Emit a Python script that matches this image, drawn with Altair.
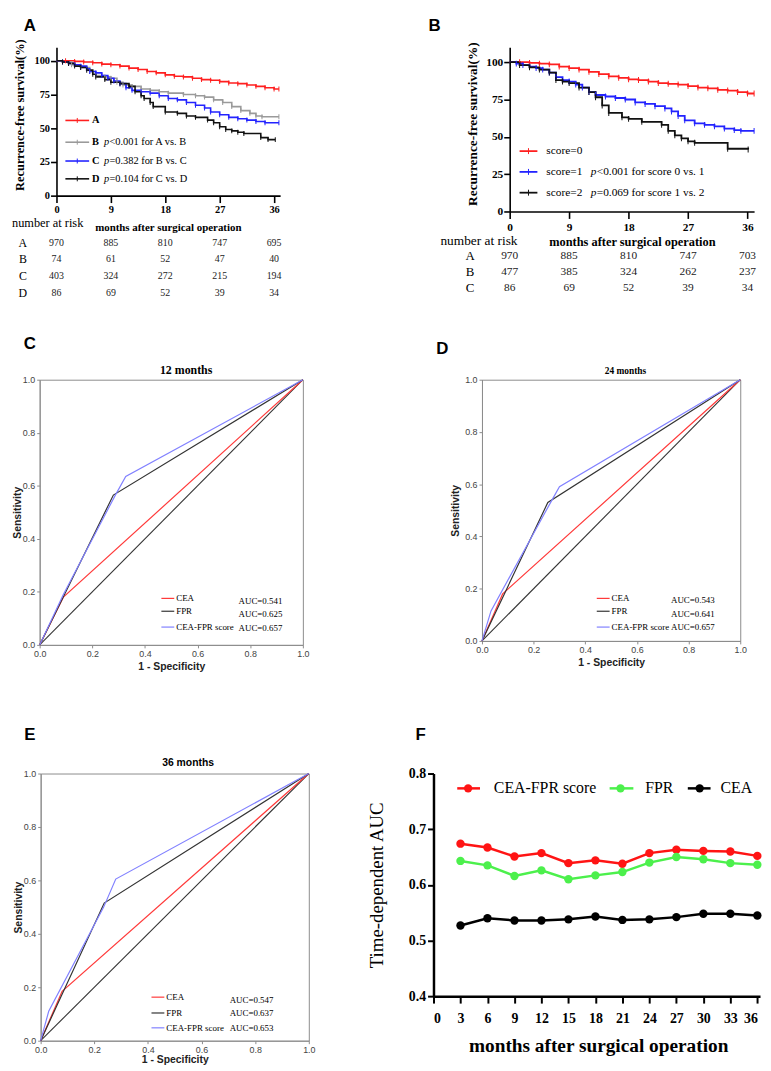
import altair as alt
import pandas as pd

SERIF = "Liberation Serif"
SANS = "Liberation Sans"

# ============================ DATA ============================
risk_months = [0, 9, 18, 27, 36]
km_xticks = [0, 9, 18, 27, 36]
km_yticks = [0, 25, 50, 75, 100]

A_names = ["A", "B", "C", "D"]
A_colors = ["#ff1f1f", "#9a9a9a", "#2323ff", "#111111"]
A_t_A = [0, 1.5, 3, 4.5, 6, 7.5, 9, 10.5, 12, 13.5, 15, 16.5, 18, 19.5, 21, 22.5, 24, 25.5, 27, 28.5, 30, 31.5, 33, 34.5, 36, 36.8]
A_s_A = [100, 100, 99.5, 99, 98.5, 97.5, 97, 96, 94.5, 93.5, 92, 91, 89.5, 88.5, 88, 87, 86, 85.5, 84.5, 83.5, 83, 82, 81, 80, 79, 79]
A_t_B = [0, 1, 2.5, 4, 5.5, 6.5, 8, 9, 10, 11, 12.5, 14, 15.5, 17, 18.5, 21, 23, 24.5, 26, 27.5, 29, 30.5, 32, 33, 34, 36.8]
A_s_B = [100, 99, 97, 95, 92, 89, 88, 87, 84, 82, 81, 79, 78, 77, 76, 75, 74, 73, 71, 69, 66, 63, 61, 59, 58.5, 58.5]
A_t_C = [0, 1, 2, 3, 4, 5, 5.5, 6.5, 7.5, 8.5, 9.5, 10.5, 11.5, 12.5, 14, 15.5, 17, 18.5, 20, 21.5, 23, 24.5, 25.5, 27, 28.5, 30, 31.5, 33, 34.5, 36.8]
A_s_C = [100, 99, 98, 97, 96, 94, 92, 91, 89, 87, 85, 83, 80, 78, 77, 76, 74, 72, 71, 69, 67, 65, 62, 60, 58, 57, 56, 55, 54, 54]
A_t_D = [0, 1, 2, 3, 4, 5, 6, 6.5, 8, 9, 10.5, 12, 13, 14, 14.5, 15.5, 16, 18, 20, 21.5, 23, 25, 26, 27, 28, 29, 30, 31, 33.8, 35, 36.2]
A_s_D = [100, 99, 98, 96, 95, 93, 90, 88, 86, 84, 83, 81, 77, 74, 72, 69, 66, 62, 61, 59, 58, 56, 54, 51, 49, 48, 47, 46, 43, 41.5, 41.5]
A_p_text = ["", "<0.001 for A vs. B", "=0.382 for B vs. C", "=0.104 for C vs. D"]
A_risk_rows = ["A", "B", "C", "D"]
A_risk_A = [970, 885, 810, 747, 695]
A_risk_B = [74, 61, 52, 47, 40]
A_risk_C = [403, 324, 272, 215, 194]
A_risk_D = [86, 69, 52, 39, 34]

B_names = ["score=0", "score=1", "score=2"]
B_colors = ["#ff1f1f", "#2323ff", "#111111"]
B_t_0 = [0, 1.5, 3, 4.5, 6, 7.5, 9, 10.5, 12, 13.5, 15, 16.5, 18, 19.5, 21, 22.5, 24, 25.5, 27, 28.5, 30, 31.5, 33, 34.5, 36, 37]
B_s_0 = [100, 100, 99.5, 99, 98.5, 97, 96, 95, 93.5, 92, 90.5, 89.5, 88.5, 88, 87, 86, 85.5, 85, 84, 83, 82.5, 81.5, 81, 80, 79, 79]
B_t_1 = [0, 1, 2, 3, 4, 5, 6, 7, 8, 9, 10, 11, 12, 13, 14.5, 16, 17.5, 19, 20.5, 22, 23.5, 24.5, 25.5, 26.5, 28, 29.5, 31, 32.5, 34, 35, 37]
B_s_1 = [100, 99, 98, 97, 96, 95, 93, 90, 88, 87, 85, 83, 80, 78, 77, 76, 75, 73, 72, 70.5, 69, 67, 64, 61, 59, 58, 57, 55.5, 54.5, 54, 54]
B_t_2 = [0, 1.5, 3, 4.5, 6, 7, 8, 9, 10.5, 12, 13, 14, 15, 17, 18, 20, 23, 24, 25, 26, 27, 28, 33, 36.1]
B_s_2 = [100, 98, 96.5, 95, 93, 88, 87, 86, 83, 80, 76.5, 71, 66, 63, 62, 60, 58, 54, 51, 49, 47, 46, 42, 41.5]
B_p_text = ["", "<0.001 for score 0 vs. 1", "=0.069 for score 1 vs. 2"]
B_risk_rows = ["A", "B", "C"]
B_risk_A = [970, 885, 810, 747, 703]
B_risk_B = [477, 385, 324, 262, 237]
B_risk_C = [86, 69, 52, 39, 34]

roc_names = ["CEA", "FPR", "CEA-FPR score"]
roc_colors = ["#ff3a3a", "#333333", "#8181ff"]
roc_ticks = [0.0, 0.2, 0.4, 0.6, 0.8, 1.0]
diag = [0.0, 1.0]

C_cea_x = [0, 0.09, 1.0]
C_cea_y = [0, 0.18, 1.0]
C_fpr_x = [0, 0.28, 1.0]
C_fpr_y = [0, 0.565, 1.0]
C_sc_x = [0, 0.09, 0.285, 0.327, 1.0]
C_sc_y = [0, 0.19, 0.56, 0.635, 1.0]
C_auc = ["AUC=0.541", "AUC=0.625", "AUC=0.657"]

D_cea_x = [0, 0.08, 1.0]
D_cea_y = [0, 0.18, 1.0]
D_fpr_x = [0, 0.255, 1.0]
D_fpr_y = [0, 0.53, 1.0]
D_sc_x = [0, 0.035, 0.26, 0.30, 1.0]
D_sc_y = [0, 0.115, 0.52, 0.59, 1.0]
D_auc = ["AUC=0.543", "AUC=0.641", "AUC=0.657"]

E_cea_x = [0, 0.08, 1.0]
E_cea_y = [0, 0.185, 1.0]
E_fpr_x = [0, 0.237, 1.0]
E_fpr_y = [0, 0.515, 1.0]
E_sc_x = [0, 0.03, 0.235, 0.28, 1.0]
E_sc_y = [0, 0.11, 0.5, 0.605, 1.0]
E_auc = ["AUC=0.547", "AUC=0.637", "AUC=0.653"]

F_months = [3, 6, 9, 12, 15, 18, 21, 24, 27, 30, 33, 36]
F_score = [0.674, 0.667, 0.651, 0.657, 0.639, 0.644, 0.638, 0.657, 0.663, 0.661, 0.660, 0.652]
F_fpr = [0.643, 0.635, 0.616, 0.626, 0.610, 0.617, 0.623, 0.640, 0.650, 0.646, 0.639, 0.636]
F_cea = [0.527, 0.540, 0.536, 0.536, 0.538, 0.543, 0.537, 0.538, 0.542, 0.548, 0.548, 0.545]
F_xticks = [0, 3, 6, 9, 12, 15, 18, 21, 24, 27, 30, 33, 36]
F_yticks = [0.4, 0.5, 0.6, 0.7, 0.8]
F_names = ["CEA-FPR score", "FPR", "CEA"]
F_colors = ["#ff1414", "#4cf04c", "#000000"]

ONE = pd.DataFrame({"k": [0]})


# ============================ HELPERS ============================
def seg(x1, x2, y1, y2, color, w, opacity=1):
    return alt.Chart(ONE).mark_rule(color=color, strokeWidth=w, opacity=opacity).encode(
        x=alt.value(x1), x2=alt.value(x2), y=alt.value(y1), y2=alt.value(y2))


def anchor(l, r, t, b):
    # invisible rule spanning the panel's cell: fixes the cell's layout bounds
    return [seg(l, r, t, b, "white", 1, opacity=0)]


def label(x, y, s, font=SERIF, size=11, weight="normal", style="normal",
          align="left", color="black", angle=0, baseline="middle"):
    return alt.Chart(pd.DataFrame({"s": [s]})).mark_text(
        font=font, fontSize=size, fontWeight=weight, fontStyle=style,
        align=align, baseline=baseline, color=color, angle=angle).encode(
        x=alt.value(x), y=alt.value(y), text="s:N")


def spacer():
    return seg(0, 1, 0, 1, "white", 1, opacity=0).properties(
        width=1, height=1, view=alt.ViewBackground(stroke="transparent"))


def km_panel(key, names, colors, ts, ss, W, H, xmax, box, letter, letter_xy,
             lab_fs, yt_fs, yt_xy, xtick_len, xlab_pad, lw, cens,
             leg_x, leg_ys, leg_tx, leg_px, leg_p, leg_fs, leg_bold,
             risk_rows, risk_vals, risk_ys, risk_lx, risk_fs, risk_lfs,
             nar_xy, nar_fs, mo_xy, mo_fs):
    gf = "g" + key
    rows = []
    for g, tt, sv in zip(names, ts, ss):
        part = pd.DataFrame({"t": tt, "s": sv})
        part[gf] = g
        part["i"] = range(len(part))
        rows.append(part)
    df = pd.concat(rows, ignore_index=True)
    xenc = alt.X("t:Q", scale=alt.Scale(domain=[0, xmax], nice=False, zero=False),
                 axis=alt.Axis(values=km_xticks, title=None, labelFont=SERIF, labelFontWeight="bold",
                               labelFontSize=lab_fs, labelColor="black", domainColor="black",
                               domainWidth=1.6, tickColor="black", tickWidth=1.6, tickSize=xtick_len,
                               labelPadding=xlab_pad, labelFlush=False, grid=False))
    yenc = alt.Y("s:Q", scale=alt.Scale(domain=[0, 110], nice=False, zero=False),
                 axis=alt.Axis(values=km_yticks, title=None,
                               labelFont=SERIF, labelFontWeight="bold",
                               labelFontSize=lab_fs, labelColor="black", domainColor="black",
                               domainWidth=1.6, tickColor="black", tickWidth=1.6, tickSize=6,
                               labelPadding=1, grid=False))
    cenc = alt.Color(gf + ":N", scale=alt.Scale(domain=names, range=colors), legend=None)
    layers = anchor(*box)
    layers.append(alt.Chart(df).mark_line(interpolate="step-after", strokeWidth=lw).encode(
        x=xenc, y=yenc, color=cenc, detail=gf + ":N", order="i:Q"))
    layers.append(alt.Chart(df).transform_filter("datum.t > 0").mark_tick(
        orient="vertical", size=cens, thickness=1, opacity=1).encode(x=xenc, y=yenc, color=cenc))
    layers.append(label(yt_xy[0], yt_xy[1], "Recurrence-free survival(%)", size=yt_fs,
                        weight="bold", align="right", angle=270))
    for k, nm in enumerate(names):
        y = leg_ys[k]
        layers.append(seg(leg_x[0], leg_x[1], y, y, colors[k], lw))
        mid = (leg_x[0] + leg_x[1]) / 2
        layers.append(seg(mid, mid, y - cens / 2, y + cens / 2, colors[k], 1))
        layers.append(label(leg_tx, y, nm, size=leg_fs, weight="bold" if leg_bold else "normal"))
        if leg_p[k]:
            layers.append(label(leg_px, y, "p", size=leg_fs, style="italic"))
            layers.append(label(leg_px + leg_fs * 0.52, y, leg_p[k], size=leg_fs))
    layers.append(label(nar_xy[0], nar_xy[1], "number at risk", size=nar_fs))
    layers.append(label(mo_xy[0], mo_xy[1], "months after surgical operation", size=mo_fs,
                        weight="bold", align="center"))
    for r, rl in enumerate(risk_rows):
        layers.append(label(risk_lx, risk_ys[r], rl, size=risk_lfs, align="center"))
        rdf = pd.DataFrame({"t": risk_months, "v": risk_vals[r]})
        layers.append(alt.Chart(rdf).mark_text(font=SERIF, fontSize=risk_fs, color="#222",
                                               baseline="middle", align="center").encode(
            x=xenc, y=alt.value(risk_ys[r]), text="v:N"))
    # panel letter hangs from the top edge of the cell
    layers.append(label(letter_xy[0], letter_xy[1], letter, font=SANS, size=17,
                        weight="bold", align="center", baseline="top"))
    return alt.layer(*layers).properties(width=W, height=H,
                                         view=alt.ViewBackground(stroke="transparent"))


def roc_panel(key, xs, ys, W, H, box, letter, letter_xy, title, title_font, title_fs, title_xy,
              yt_pad, xt_pad, leg_x, leg_ys, leg_tx, auc_x, auc_ys, aucs):
    gf = "g" + key
    parts = []
    for nm, xx, yy in zip(roc_names, xs, ys):
        p = pd.DataFrame({"x": xx, "y": yy})
        p[gf] = nm
        p["i"] = range(len(p))
        parts.append(p)
    df = pd.concat(parts, ignore_index=True)
    common = dict(labelFont=SANS, labelFontSize=9, labelColor="#444", domainColor="#8c8c8c",
                  tickColor="#8c8c8c", tickSize=3, labelPadding=2, grid=False,
                  titleFont=SANS, titleFontWeight="bold", titleFontSize=10.5, titleColor="#222",
                  values=roc_ticks, format=".1f")
    xenc = alt.X("x:Q", scale=alt.Scale(domain=[0, 1], nice=False),
                 axis=alt.Axis(title="1 - Specificity", titlePadding=xt_pad, labelFlush=False, **common))
    yenc = alt.Y("y:Q", scale=alt.Scale(domain=[0, 1], nice=False),
                 axis=alt.Axis(title="Sensitivity", titlePadding=yt_pad, **common))
    cenc = alt.Color(gf + ":N", scale=alt.Scale(domain=roc_names, range=roc_colors), legend=None)
    ddf = pd.DataFrame({"x": diag, "y": diag})
    layers = anchor(*box)
    layers += [alt.Chart(ddf).mark_line(color="#333333", strokeWidth=1.1).encode(x=xenc, y=yenc),
               alt.Chart(df).mark_line(strokeWidth=1.2).encode(x=xenc, y=yenc, color=cenc,
                                                                detail=gf + ":N", order="i:Q")]
    for k, nm in enumerate(roc_names):
        layers.append(seg(leg_x[0], leg_x[1], leg_ys[k], leg_ys[k], roc_colors[k], 1.2))
        layers.append(label(leg_tx, leg_ys[k], nm, size=9))
        layers.append(label(auc_x, auc_ys[k], aucs[k], size=9))
    layers.append(label(title_xy[0], title_xy[1], title, font=title_font, size=title_fs,
                        weight="bold", align="center"))
    layers.append(label(letter_xy[0], letter_xy[1], letter, font=SANS, size=17,
                        weight="bold", align="center"))
    return alt.layer(*layers).properties(width=W, height=H,
                                         view=alt.ViewBackground(stroke="#8c8c8c", strokeWidth=1))


# ============================ PANELS ============================
pA = km_panel("A", A_names, A_colors, [A_t_A, A_t_B, A_t_C, A_t_D], [A_s_A, A_s_B, A_s_C, A_s_D],
              W=226, H=150, xmax=37, box=(-45, 308, -29, 280), letter="A", letter_xy=(-27, -29),
              lab_fs=10.5, yt_fs=12.5, yt_xy=(-37, -8), xtick_len=7, xlab_pad=2, lw=1.6, cens=5,
              leg_x=(9, 33), leg_ys=[74, 96, 115, 133], leg_tx=36, leg_px=48, leg_p=A_p_text,
              leg_fs=10.5, leg_bold=True,
              risk_rows=A_risk_rows, risk_vals=[A_risk_A, A_risk_B, A_risk_C, A_risk_D],
              risk_ys=[198, 214, 231, 248], risk_lx=-34, risk_fs=10, risk_lfs=12,
              nar_xy=(-45, 178), nar_fs=12.5, mo_xy=(113, 183), mo_fs=11)

pB = km_panel("B", B_names, B_colors, [B_t_0, B_t_1, B_t_2], [B_s_0, B_s_1, B_s_2],
              W=247, H=166, xmax=37, box=(-148, 253, -29, 279), letter="B", letter_xy=(-76, -29),
              lab_fs=11.5, yt_fs=13.5, yt_xy=(-37, -5), xtick_len=7, xlab_pad=3, lw=1.8, cens=6,
              leg_x=(10, 28), leg_ys=[105, 126, 147], leg_tx=37, leg_px=82, leg_p=B_p_text,
              leg_fs=11.5, leg_bold=False,
              risk_rows=B_risk_rows, risk_vals=[B_risk_A, B_risk_B, B_risk_C],
              risk_ys=[211, 227, 243], risk_lx=-40, risk_fs=11.5, risk_lfs=13,
              nar_xy=(-70, 196), nar_fs=13.5, mo_xy=(124, 197), mo_fs=12.5)

pC = roc_panel("C", [C_cea_x, C_fpr_x, C_sc_x], [C_cea_y, C_fpr_y, C_sc_y], W=266, H=268,
               box=(-28, 325, -54, 316), letter="C", letter_xy=(-10, -36),
               title="12 months", title_font=SERIF, title_fs=12, title_xy=(148, -10), yt_pad=0, xt_pad=3,
               leg_x=(123, 136), leg_ys=[221, 234, 250], leg_tx=138, auc_x=201,
               auc_ys=[224, 237, 251], aucs=C_auc)

pD = roc_panel("D", [D_cea_x, D_fpr_x, D_sc_x], [D_cea_y, D_fpr_y, D_sc_y], W=261, H=264,
               box=(-120, 281, -54, 316), letter="D", letter_xy=(-40, -31),
               title="24 months", title_font=SERIF, title_fs=9.5, title_xy=(145, -9), yt_pad=4, xt_pad=3,
               leg_x=(116, 129), leg_ys=[221, 234, 250], leg_tx=131, auc_x=191,
               auc_ys=[223, 237, 250], aucs=D_auc)

pE = roc_panel("E", [E_cea_x, E_fpr_x, E_sc_x], [E_cea_y, E_fpr_y, E_sc_y], W=271, H=270,
               box=(-29, 324, -80, 295), letter="E", letter_xy=(-11, -39),
               title="36 months", title_font=SANS, title_fs=10.5, title_xy=(149, -11), yt_pad=0, xt_pad=0,
               leg_x=(112, 125), leg_ys=[226, 242, 257], leg_tx=127, auc_x=191,
               auc_ys=[229, 242, 257], aucs=E_auc)

fparts = []
for nm, vals in zip(F_names, [F_score, F_fpr, F_cea]):
    p = pd.DataFrame({"m": F_months, "v": vals})
    p["gF"] = nm
    fparts.append(p)
fdf = pd.concat(fparts, ignore_index=True)
fx = alt.X("m:Q", scale=alt.Scale(domain=[0, 36.3], nice=False, zero=False),
           axis=alt.Axis(values=F_xticks, title=None,
                         labelFont=SERIF, labelFontWeight="bold", labelFontSize=14, labelColor="black",
                         domainColor="black", domainWidth=2.5, tickColor="black", tickWidth=2,
                         tickSize=7, labelPadding=9, labelFlush=5, labelOverlap=False, grid=False))
fy = alt.Y("v:Q", scale=alt.Scale(domain=[0.4, 0.8], nice=False, zero=False),
           axis=alt.Axis(values=F_yticks, format=".1f", title="Time-dependent AUC", titleFont=SERIF,
                         titleFontWeight="normal", titleFontSize=19, titleColor="black", titlePadding=22,
                         labelFont=SERIF, labelFontWeight="bold", labelFontSize=14, labelColor="black",
                         domainColor="black", domainWidth=2.5, tickColor="black", tickWidth=2,
                         tickSize=6, labelPadding=2, grid=False))
fc = alt.Color("gF:N", scale=alt.Scale(domain=F_names, range=F_colors), legend=None)
f_layers = anchor(-71, 330, -80, 295)
f_layers += [alt.Chart(fdf).mark_line(strokeWidth=2.5).encode(x=fx, y=fy, color=fc, detail="gF:N"),
             alt.Chart(fdf).mark_circle(size=72, opacity=1).encode(x=fx, y=fy, color=fc)]
F_leg = [(24, 47, 35, 61, "left"), (178, 202, 189, 214, "left"), (257, 280, 269, 322, "right")]
for k, nm in enumerate(F_names):
    x1, x2, xc, xt, al = F_leg[k]
    f_layers.append(seg(x1, x2, 15, 15, F_colors[k], 2.5))
    f_layers.append(alt.Chart(ONE).mark_circle(size=72, opacity=1, color=F_colors[k]).encode(
        x=alt.value(xc), y=alt.value(15)))
    f_layers.append(label(xt, 15, nm, size=16, align=al))
f_layers.append(label(298, 275, "months after surgical operation", size=19.5, weight="bold",
                      align="right"))
f_layers.append(label(-13, -39, "F", font=SANS, size=17, weight="bold", align="center"))
pF = alt.layer(*f_layers).properties(width=330, height=225,
                                     view=alt.ViewBackground(stroke="transparent"))


def row(a, b):
    return alt.hconcat(spacer(), a, b, spacing=0).resolve_scale(color="independent")


chart = alt.vconcat(
    spacer(),
    row(pA, pB),
    row(pC, pD),
    row(pE, pF),
    spacing=0,
).resolve_scale(color="independent").properties(padding=0)

chart.save("out.html", embed_options={"renderer": "svg", "actions": False})
